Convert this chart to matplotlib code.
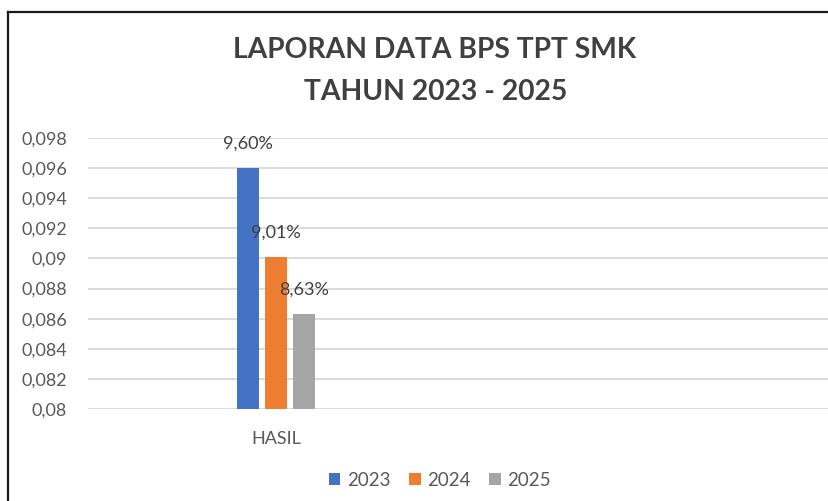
import numpy as np
import matplotlib
matplotlib.use("Agg")
import matplotlib.pyplot as plt
from matplotlib.lines import Line2D
from matplotlib.patches import Patch

# ---- data ----
categories = ["HASIL", ""]
series_names = ["2023", "2024", "2025"]
values_2023 = [0.0960, np.nan]
values_2024 = [0.0901, np.nan]
values_2025 = [0.0863, np.nan]
label_2023 = ["9,60%", ""]
label_2024 = ["9,01%", ""]
label_2025 = ["8,63%", ""]
yticks = [0.080, 0.082, 0.084, 0.086, 0.088, 0.090, 0.092, 0.094, 0.096, 0.098]
ytick_labels = ["0,08", "0,082", "0,084", "0,086", "0,088", "0,09", "0,092", "0,094", "0,096", "0,098"]
title_lines = ["LAPORAN DATA BPS TPT SMK", "TAHUN 2023 - 2025"]

colors = ["#4472C4", "#ED7D31", "#A5A5A5"]
text_color = "#595959"
grid_color = "#D9D9D9"
FONT = "Lato"

W, H = 829, 501
fig = plt.figure(figsize=(W / 100, H / 100), dpi=100)
fig.patch.set_facecolor("white")

def px(x, y):
    return x / W, 1 - y / H

left_px, right_px, top_px, bot_px = 88, 840, 138, 409
ax = fig.add_axes([left_px / W, 1 - bot_px / H, (right_px - left_px) / W, (bot_px - top_px) / H])

x = np.arange(len(categories))
width = 0.057
offsets = [-0.0745, 0.0, 0.0745]
series = [values_2023, values_2024, values_2025]
labels = [label_2023, label_2024, label_2025]

for vals, off, col, labs in zip(series, offsets, colors, labels):
    ax.bar(x + off, vals, width=width, color=col, zorder=3)
    for xi, v, lab in zip(x, vals, labs):
        if not np.isnan(v) and lab:
            ax.annotate(lab, (xi + off, v), xytext=(0, 17.5), textcoords="offset points",
                        ha="center", va="center", fontsize=13, color="#404040", family=FONT, zorder=4)

ax.set_xlim(-0.5, 1.5)
ax.set_ylim(0.080, 0.098)
ax.set_yticks(yticks)
ax.set_yticklabels(ytick_labels)
ax.set_xticks(x)
ax.set_xticklabels(categories)
ax.tick_params(axis="both", length=0, colors=text_color, labelsize=13)
ax.tick_params(axis="y", pad=15)
ax.tick_params(axis="x", pad=16)
for lab in ax.get_xticklabels() + ax.get_yticklabels():
    lab.set_family(FONT)
ax.yaxis.grid(True, color=grid_color, linewidth=1.3, zorder=0)
ax.set_axisbelow(True)
for s in ax.spines.values():
    s.set_visible(False)
ax.set_facecolor("none")

# title
fig.text(*px(435, 50), title_lines[0], ha="center", va="center", fontsize=20.3,
         fontweight="bold", color="#404040", family=FONT)
fig.text(*px(436, 92), title_lines[1], ha="center", va="center", fontsize=20.3,
         fontweight="bold", color="#404040", family=FONT)

# legend
handles = [Patch(facecolor=c, edgecolor="none") for c in colors]
leg = fig.legend(handles, series_names, loc="center", bbox_to_anchor=px(440, 480), ncol=3,
                 frameon=False, handlelength=0.6, handleheight=0.6, handletextpad=0.35,
                 columnspacing=1.0, prop={"family": FONT, "size": 13.5})
for t in leg.get_texts():
    t.set_color(text_color)

# outer border (cropped chart frame)
fig.add_artist(Line2D([8 / W, 1.0], [1 - 12 / H, 1 - 12 / H], transform=fig.transFigure,
                      color="#1a1a1a", linewidth=1.6))
fig.add_artist(Line2D([8 / W, 8 / W], [1 - 12 / H, 0.0], transform=fig.transFigure,
                      color="#1a1a1a", linewidth=1.6))

fig.savefig("out.png", dpi=100)
